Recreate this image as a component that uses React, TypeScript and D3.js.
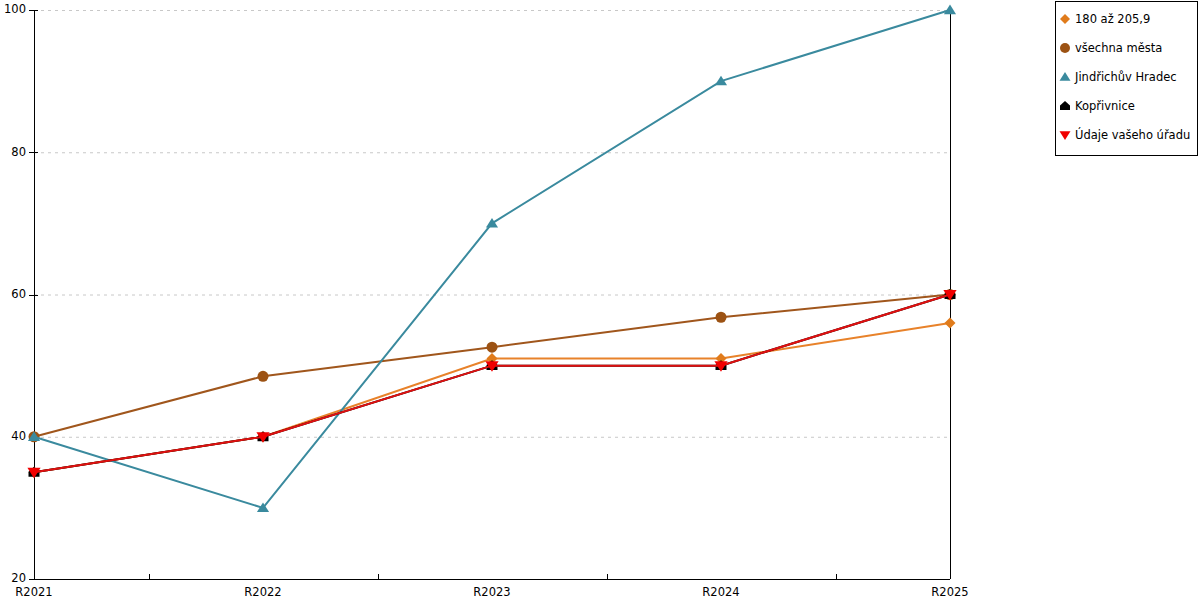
import React from 'react';
import { useRef, useEffect } from 'react';
import * as d3 from 'd3';

const categories = ["R2021", "R2022", "R2023", "R2024", "R2025"];
const yTicks = [20, 40, 60, 80, 100];

const seriesNames = ["180 až 205,9", "všechna města", "Jindřichův Hradec", "Kopřivnice", "Údaje vašeho úřadu"];
const valuesBand = [35, 40, 51, 51, 56];
const valuesAllCities = [40, 48.5, 52.6, 56.8, 60];
const valuesJindrichuv = [40, 30, 70, 90, 100];
const valuesKoprivnice = [35, 40, 50, 50, 60];
const valuesOffice = [35, 40, 50, 50, 60];

const chartStyle = {
    width: 1200,
    height: 600,
    margin: {top: 10, left: 34, bottom: 21, right: 250},
    fontFamily: "'DejaVu Sans', sans-serif",
    fontSize: 11.5,
    gridLineColor: "#c8c8c8",
    strokeWidth: 2,
};

const seriesColors = ["#e07b1b", "#9c5213", "#3a8a9e", "#000000", "#f00000"];
const lineColors = ["#e8822a", "#a0561c", "#3a8a9e", "#000000", "#e01010"];
const seriesShapes = ["diamond", "circle", "triangle", "house", "triangleDown"];

function markerPath(shape: string, s: number): string {
    switch (shape) {
        case "diamond":
            return `M0,${-s}L${s},0L0,${s}L${-s},0Z`;
        case "circle":
            return d3.symbol(d3.symbolCircle, Math.PI * s * s)() || "";
        case "triangle":
            return `M0,${-s}L${s * 1.1},${s * 0.75}L${-s * 1.1},${s * 0.75}Z`;
        case "triangleDown":
            return `M0,${s}L${s * 1.1},${-s * 0.75}L${-s * 1.1},${-s * 0.75}Z`;
        case "house":
            return `M0,${-s}L${s},${-s * 0.1}L${s},${s * 0.8}L${-s},${s * 0.8}L${-s},${-s * 0.1}Z`;
        default:
            return "";
    }
}

const App: React.FC = () => {
    const svgRef = useRef<SVGSVGElement>(null);

    useEffect(() => {
        if (!svgRef.current) return;
        const { width, height, margin } = chartStyle;
        const svg = d3.select(svgRef.current)
            .attr("width", width)
            .attr("height", height)
            .style("font-family", chartStyle.fontFamily);
        svg.selectAll("*").remove();

        const plotRight = width - margin.right;
        const plotBottom = height - margin.bottom;

        const xScale = d3.scalePoint<string>()
            .domain(categories)
            .range([margin.left, plotRight]);

        const yScale = d3.scaleLinear()
            .domain([20, 100])
            .range([plotBottom, margin.top]);

        // gridlines
        svg.append("g")
            .selectAll("line")
            .data(yTicks.filter(d => d !== 20))
            .join("line")
            .attr("x1", margin.left)
            .attr("x2", plotRight)
            .attr("y1", d => yScale(d) + 0.5)
            .attr("y2", d => yScale(d) + 0.5)
            .attr("stroke", chartStyle.gridLineColor)
            .attr("stroke-dasharray", "3,4");

        // y axis
        const yAxis = svg.append("g").attr("shape-rendering", "crispEdges");
        yAxis.append("line")
            .attr("x1", margin.left + 0.5).attr("x2", margin.left + 0.5)
            .attr("y1", margin.top).attr("y2", plotBottom)
            .attr("stroke", "black");
        yAxis.selectAll("line.tick")
            .data(yTicks)
            .join("line")
            .attr("class", "tick")
            .attr("x1", margin.left - 5).attr("x2", margin.left + 4)
            .attr("y1", d => yScale(d) + 0.5).attr("y2", d => yScale(d) + 0.5)
            .attr("stroke", "black");
        yAxis.selectAll("text")
            .data(yTicks)
            .join("text")
            .attr("x", margin.left - 8)
            .attr("y", d => yScale(d))
            .attr("dy", "0.3em")
            .attr("text-anchor", "end")
            .attr("font-size", chartStyle.fontSize)
            .text(d => d);

        // right vertical line
        svg.append("line")
            .attr("shape-rendering", "crispEdges")
            .attr("x1", plotRight + 0.5).attr("x2", plotRight + 0.5)
            .attr("y1", margin.top).attr("y2", plotBottom)
            .attr("stroke", "black");

        // x axis
        const xAxis = svg.append("g").attr("shape-rendering", "crispEdges");
        xAxis.append("line")
            .attr("x1", margin.left).attr("x2", plotRight)
            .attr("y1", plotBottom + 0.5).attr("y2", plotBottom + 0.5)
            .attr("stroke", "black");
        const step = xScale.step();
        const tickXs = categories.slice(0, -1).map(c => (xScale(c) as number) + step / 2);
        xAxis.selectAll("line.tick")
            .data(tickXs)
            .join("line")
            .attr("class", "tick")
            .attr("x1", d => d + 0.5).attr("x2", d => d + 0.5)
            .attr("y1", plotBottom).attr("y2", plotBottom - 5)
            .attr("stroke", "black");
        xAxis.selectAll("text")
            .data(categories)
            .join("text")
            .attr("x", d => xScale(d) as number)
            .attr("y", plotBottom + 17)
            .attr("text-anchor", "middle")
            .attr("font-size", chartStyle.fontSize)
            .text(d => d);

        const allSeries = [valuesBand, valuesAllCities, valuesJindrichuv, valuesKoprivnice, valuesOffice];

        const line = d3.line<number>()
            .x((_, i) => xScale(categories[i]) as number)
            .y(d => yScale(d));

        allSeries.forEach((vals, si) => {
            svg.append("path")
                .datum(vals)
                .attr("fill", "none")
                .attr("stroke", lineColors[si])
                .attr("stroke-width", chartStyle.strokeWidth)
                .attr("d", line);
            svg.append("g")
                .selectAll("path")
                .data(vals)
                .join("path")
                .attr("transform", (d, i) => `translate(${xScale(categories[i])},${yScale(d)})`)
                .attr("d", markerPath(seriesShapes[si], si === 4 ? 6 : 5.5))
                .attr("fill", seriesColors[si]);
        });

        // legend
        const legend = svg.append("g");
        legend.append("rect")
            .attr("x", 1055.5).attr("y", 1.5)
            .attr("width", 142).attr("height", 154)
            .attr("fill", "white")
            .attr("stroke", "black");
        seriesNames.forEach((name, i) => {
            const ly = 19 + i * 29;
            legend.append("path")
                .attr("transform", `translate(1065,${ly})`)
                .attr("d", markerPath(seriesShapes[i], 5))
                .attr("fill", seriesColors[i]);
            legend.append("text")
                .attr("x", 1075)
                .attr("y", ly)
                .attr("dy", "0.35em")
                .attr("font-size", chartStyle.fontSize)
                .text(name);
        });
    }, []);

    return (
        <div style={{position: "absolute", left: 0, top: 0}}>
            <svg ref={svgRef} style={{display: "block"}} />
        </div>
    );
};

export default App;
